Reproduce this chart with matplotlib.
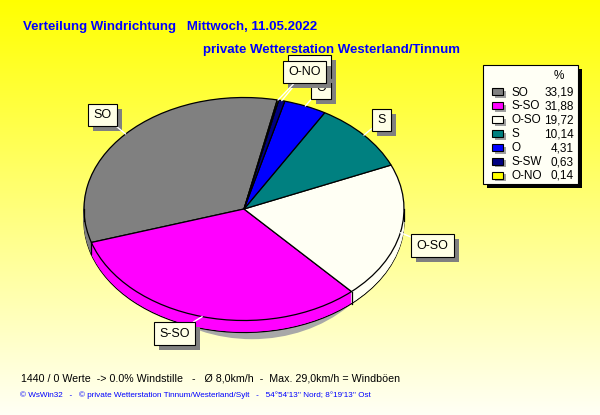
import numpy as np
import matplotlib.pyplot as plt
from matplotlib.patches import Rectangle, Ellipse

# Daten
richtung = ['SO', 'S-SO', 'O-SO', 'S', 'O', 'S-SW', 'O-NO']
anteil = [33.19, 31.88, 19.72, 10.14, 4.31, 0.63, 0.14]
anteil_txt = ['33,19', '31,88', '19,72', '10,14', '4,31', '0,63', '0,14']
farben = ['#808080', '#ff00ff', '#fffff4', '#008080', '#0000ff', '#000080', '#ffff00']

titel = 'Verteilung Windrichtung   Mittwoch, 11.05.2022'
untertitel = 'private Wetterstation Westerland/Tinnum'
info = '1440 / 0 Werte  -> 0.0% Windstille   -   Ø 8,0km/h  -  Max. 29,0km/h = Windböen'
fuss = "© WsWin32   -   © private Wetterstation Tinnum/Westerland/Sylt   -   54°54'13'' Nord; 8°19'13'' Ost"

# Beschriftungs-Versatz (Pixel) vom Tortenrand zur Boxmitte
label_off = [(-23, 19), (-28, -17), (32, -13), (18, 15), (16, 18), (28, 34), (27, 28)]

plt.rcParams['font.family'] = ['Liberation Sans', 'DejaVu Sans']

fig = plt.figure(figsize=(6, 4.15), dpi=100)

# Hintergrund mit Verlauf (Pixelkoordinaten)
bg = fig.add_axes([0, 0, 1, 1])
bg.set_xlim(0, 600)
bg.set_ylim(415, 0)
bg.axis('off')
yy = np.linspace(0, 1, 200)[:, None]
grad = np.ones((200, 2, 3))
grad[..., 2] = 0.96 * yy
bg.imshow(grad, extent=(0, 600, 415, 0), aspect='auto', zorder=0)

# Torte als Ellipse
cx, cy, rx, ry = 244, 209, 160, 111.5
ax = fig.add_axes([(cx - 1.2 * rx) / 600, (415 - (cy + 1.3 * ry)) / 415,
                   2.4 * rx / 600, 2.4 * ry / 415])
ax.patch.set_alpha(0)
depth = 12 / ry

ax.add_patch(Ellipse((0.05, -depth - 0.06), 1.7, 2.0, fc='#a8a8a8', ec='none', zorder=0))

schichten = np.linspace(depth, 0, 13)
for i, d in enumerate(schichten):
    rand = i == 0 or i == len(schichten) - 1
    wedges, _ = ax.pie(anteil, colors=farben, startangle=78, counterclock=True,
                       center=(0, -d), radius=1,
                       wedgeprops=dict(edgecolor='black', linewidth=0.9 if rand else 0.5))
    for w in wedges:
        w.set_zorder(1 + i * 0.01)
        if not rand:
            w.set_edgecolor(w.get_facecolor())

# senkrechte Kanten an der Vorderseite
grenzen = 78 + np.cumsum([0] + anteil[:-1]) / sum(anteil) * 360
for g in list(grenzen) + [180, 360]:
    t = np.deg2rad(g)
    if np.sin(t) <= 0.001:
        ax.plot([np.cos(t), np.cos(t)], [np.sin(t), np.sin(t) - depth],
                color='black', lw=0.9, zorder=1.2)

# Beschriftungen mit Schatten
mitte = 78 + (np.cumsum(anteil) - np.array(anteil) / 2) / sum(anteil) * 360
for i, (name, m) in enumerate(zip(richtung, mitte)):
    t = np.deg2rad(m)
    xy = (np.cos(t), np.sin(t))
    ox, oy = label_off[i]
    ax.annotate(name, xy=xy, xytext=(ox + 5, oy - 5), textcoords='offset pixels',
                ha='center', va='center', fontsize=9, color='none',
                bbox=dict(boxstyle='square,pad=0.42', fc='#808080', ec='none'),
                annotation_clip=False, zorder=3 + i * 0.1)
    ax.annotate(name, xy=xy, xytext=(ox, oy), textcoords='offset pixels',
                ha='center', va='center', fontsize=9, color='black',
                bbox=dict(boxstyle='square,pad=0.42', fc='#ffffe6', ec='black', lw=0.8),
                arrowprops=dict(arrowstyle='-', color='white', lw=1, shrinkA=0, shrinkB=0),
                annotation_clip=False, zorder=3.05 + i * 0.1)

ax.set_aspect('auto')
ax.set_xlim(-1.2, 1.2)
ax.set_ylim(-1.3, 1.1)
ax.axis('off')

# Legende
bg.add_patch(Rectangle((487, 69), 95, 119, fc='black', ec='none', zorder=2))
bg.add_patch(Rectangle((483, 65), 95, 119, fc='#fffff5', ec='black', lw=0.8, zorder=3))
bg.text(559, 76, '%', fontsize=8.5, ha='center', va='center', zorder=4)
for i, (name, val, col) in enumerate(zip(richtung, anteil_txt, farben)):
    y = 92.5 + i * 13.9
    bg.add_patch(Rectangle((494.5, y - 1.5), 11, 7, fc='#a0a0a0', ec='none', zorder=4))
    bg.add_patch(Rectangle((491.5, y - 4), 11, 7, fc=col, ec='black', lw=0.8, zorder=5))
    bg.text(511, y, name, fontsize=8.5, ha='left', va='center', zorder=5)
    bg.text(573.5, y, val, fontsize=8.5, ha='right', va='center', zorder=5)

# Texte
bg.text(23, 30, titel, fontsize=9.5, fontweight='bold', color='#0000ff', va='baseline')
bg.text(203, 53, untertitel, fontsize=9.5, fontweight='bold', color='#0000ff', va='baseline')
bg.text(21, 381, info, fontsize=7.7, color='black', va='baseline')
bg.text(20, 396.5, fuss, fontsize=5.85, color='#0000ff', va='baseline')

fig.savefig('out.png', dpi=100)
